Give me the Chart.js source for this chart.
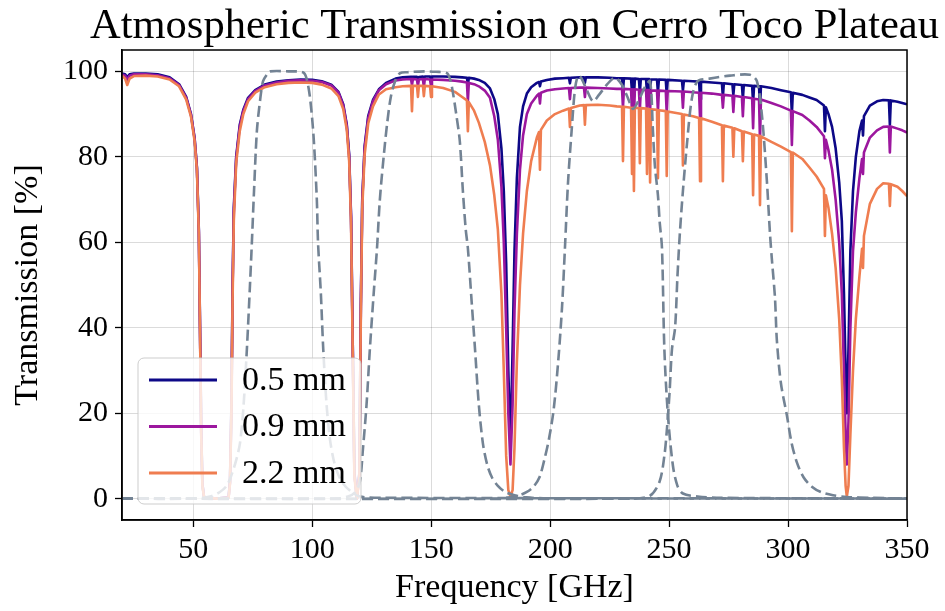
<!DOCTYPE html>
<html>
<head>
<meta charset="utf-8">
<script src="https://cdn.jsdelivr.net/npm/chart.js@4"></script>
<style>
html,body{margin:0;padding:0;background:#fff;}
canvas{display:block;}
</style>
</head>
<body>
<canvas id="c" width="945" height="611"></canvas>
<script>
// ---------- DATA ----------
const titleText = "Atmospheric Transmission on Cerro Toco Plateau";
const xLabel = "Frequency [GHz]";
const yLabel = "Transmission [%]";
const seriesLabels = ["0.5 mm", "0.9 mm", "2.2 mm"];
const xTicks = [50, 100, 150, 200, 250, 300, 350];
const yTicks = [0, 20, 40, 60, 80, 100];

const freqGHz = [20,21.3,22.2,23.2,25,30,35,40,44,47,49,50.5,51.5,52.3,52.8,53.3,53.8,54.5,60,64.8,65.4,66,66.5,67,68,69.5,71,73,76,80,85,90,95,100,104,108,111,113,114.5,115.5,116.3,117,117.7,118.75,119.8,120.4,121,122,123.5,125.5,128,131,135,138,141.5,141.9,142.3,144,144.4,144.8,146.5,146.9,147.3,149.5,149.9,150.3,155,160,163,165,165.4,165.8,168,170,172.5,174.7,176.5,178,179.5,180.5,181.5,182.4,183.3,184.2,185,186,187.3,188.6,190.2,192,194.4,195.3,195.7,196.1,198.6,202,205.4,207.9,208.3,208.7,212.5,214.2,214.6,215,220,225,228,230.2,230.6,231,234,234.4,234.8,235.2,235.6,237.3,237.7,238.1,240.3,240.7,241.1,241.6,242,242.4,244.9,245.3,245.7,248.6,249,249.4,255.4,255.8,256.2,260,262.6,263,263.4,268,272.2,272.6,273,276.6,277,277.4,280.6,281,281.4,284.9,285.3,285.7,287.8,288.2,288.6,293,297,301.2,301.6,302,306,309,312,315.1,315.5,315.9,317,318.5,320,321.5,322.6,323.5,324.2,324.7,325.4,326.2,327.3,328.5,330,331.1,331.5,331.9,334.4,337.4,340,342.4,342.8,343.2,346,348,350];

const trans05mm = [99.5,99.3,98.6,99.3,99.5,99.5,99.3,98.6,97.0,94.0,90.0,84.5,77.5,63,40,16,3.5,0.3,0,0.3,4,22,50,68,80,87.5,91,93.8,95.6,96.9,97.6,97.9,98.1,98.0,97.7,96.9,95.2,92.3,87.5,80.5,66,36,6,0,6,45,70,82.5,89.5,93.3,95.8,97.3,98.3,98.6,98.7,98.0,98.7,98.7,98.2,98.7,98.8,98.0,98.8,98.8,98.2,98.8,98.8,98.7,98.6,98.5,96.8,98.5,98.3,98.0,97.3,96.0,93.5,90,82,72,55,30,12,35,58,75,87,91.8,94.8,96.3,97.3,97.5,96.5,97.6,98.0,98.3,98.4,98.5,97.2,98.5,98.6,98.6,97.3,98.6,98.6,98.5,98.4,98.4,95.5,98.4,98.3,95,98.3,94,98.3,98.2,95,98.2,98.2,95,98.2,98.2,95.5,98.1,98.1,95,98.1,98.0,94.5,98.0,97.8,95.5,97.8,97.7,97.6,93.5,97.6,97.4,97.2,94,97.2,97.0,94.5,97.0,96.8,93.5,96.8,96.6,92.5,96.6,96.5,91.5,96.5,96.1,95.6,95.1,90,95.0,94.5,93.9,93.3,92.0,86,91.6,90,87,82,74,65,48,30,20,35,58,72,80,86,88.5,85,89.5,92.0,93.0,93.3,93.2,87.5,93.2,92.9,92.6,92.3];

const trans09mm = [99.3,99.0,98.0,99.0,99.3,99.3,99.1,98.4,96.8,93.8,89.8,84.3,77.3,62.5,39.5,15.5,3.3,0.3,0,0.3,3.8,21,49,67,79.5,87,90.7,93.5,95.4,96.7,97.4,97.8,97.9,97.8,97.5,96.7,95.0,92.0,87.2,80,65.5,35.5,5.8,0,5.8,44.5,69.5,82,89,93,95.6,97.0,97.9,98.1,98.2,96.8,98.2,98.1,96.5,98.1,98.2,96.3,98.2,98.1,96.5,98.1,98.0,97.8,97.6,97.4,93.0,97.3,97.0,96.5,95.5,93.8,89.5,84,73,60,40,20,8,22,44,62,77,85,90,92.5,94.3,94.8,92.5,95.0,95.5,95.8,96.0,96.1,93.5,96.1,96.2,96.2,94.0,96.2,96.1,96.0,95.9,95.9,91.5,95.9,95.8,90,95.8,89,95.8,95.7,91,95.7,95.6,90.5,95.6,95.6,91,95.5,95.5,90.5,95.5,95.4,90,95.4,95.3,91.5,95.3,95.1,95.0,89,95.0,94.8,94.5,91.5,94.5,94.3,90.5,94.3,94.0,89.5,94.0,93.7,86.7,93.6,93.4,83.7,93.4,92.6,91.8,90.8,82.8,90.7,89.8,88.5,87,84.8,79.7,84.0,81.5,77,70,60,48,30,15,8,18,40,58,67,75,79.5,76,81,84.5,86.2,87.0,87.1,81,87.1,86.6,86.2,85.7];

const trans22mm = [99.0,98.3,96.8,98.3,98.9,99.0,98.8,98.1,96.5,93.4,89.4,83.8,76.8,62,39,15,3,0.2,0,0.2,3.5,20,47,65,78.5,86,90,93,95,96.3,97.0,97.3,97.4,97.3,96.9,96.0,94.2,91.2,86.3,79,64,34,5,0,5,43,68,80.5,87.8,91.8,94.6,95.8,96.3,96.5,96.6,90.7,96.6,96.6,94.0,96.6,96.6,94.2,96.6,96.5,94.0,96.5,96.1,95.2,94.0,93.2,86.0,92.8,90.8,88.0,83.5,78,71,63,48,30,10,2,0.5,2,12,32,50,62,72,79,84.5,85.8,77,86.3,88.5,90.0,90.8,91.3,87,91.4,92.0,92.1,87.5,92.1,92.2,92.0,91.8,91.7,79,91.7,91.5,76,91.5,72,91.5,91.4,78.5,91.4,91.3,76,91.2,91.2,74,91.1,91.0,75,90.9,90.7,75.5,90.6,90.0,78,89.9,89.5,89.1,74.3,89.0,88.2,87.4,74.3,87.3,86.8,80,86.7,86.0,79,85.9,85.3,71,85.2,84.9,68.7,84.8,83.5,82.4,81.1,62.6,81.0,79.5,77.5,75.4,72.5,61.5,71.0,68,62,54,42,28,12,3,0.5,3,15,30,42,52,58.5,54,61.5,69,72.5,73.8,73.7,68.5,73.6,73.0,72.0,70.8];

// detector band-pass curves (dashed)
const band90Freq = [20,50,57,61,64,66,68,69.6,71,72.5,73.8,74.6,75.5,76.7,78,79.3,81,82.2,90,96,97.5,99,100.5,101.9,102.4,103.6,104.6,106,107.4,109,111,113,116,120,130,350];
const band90Vals = [0,0,0.5,1.5,3,5.5,9,13,21,35,50,60,72,86,93,97.7,99.3,100,100,99.8,98.5,94,85,70,60,48,35,22,14,9,5.5,3.5,1.8,0.5,0.2,0];
const band150Freq = [20,110,115,118,120,121.3,122.8,124.2,125.8,127.2,128.4,130,131.4,133,134.8,136.9,140,147,152,156.6,158,159,160.5,162,163.3,164.5,165.4,167,168.4,170,171.7,173.5,175.5,178,181,185,190,197,350];
const band150Vals = [0,0,0.5,1.5,4,11.7,22,35,48,58.6,70,80,87.5,94,97.7,99.6,99.8,100,99.9,99.6,98,95.4,90,83.7,72,63,58.6,46,35,22,13,8,5,3,1.6,0.8,0.3,0.1,0];
const band220Freq = [20,178,183,187,190,193,195.5,197.5,199.5,201.5,203.5,205,206.2,207.5,209,210.4,211.7,213,215.5,218,220.5,224,227.2,230,232.5,234.8,237,240,242,243.2,244,245.3,246,247,248,249.5,251.6,253.5,255.8,262,270,350];
const band220Vals = [0,0,0.3,0.8,1.5,2.8,5,9,14,21,33,45,58.6,74,86,95.7,99,98.5,95.5,93,94.5,97,98.5,97,94,91.2,93,96.5,97.7,86,78,71,65,58.6,35,19.5,7.7,3,1.2,0.5,0.2,0];
const band280Freq = [20,235,242,246,248,249,250.2,251.2,252.5,253.5,254.5,255.8,257.5,259.6,262,267,275.6,284,286.9,289,291.1,292.4,293.2,294.5,295.3,297,299.5,301.5,303.7,306.5,310,314,318.9,324.7,335,350];
const band280Vals = [0,0,0.7,4,10,15.7,25,35,40,52,62,72,83,93.8,97.7,98.3,99,99.2,97.7,89.8,74.3,62,56,47,37,27,19.5,13,8.5,5,2.8,1.5,0.8,0.4,0.2,0];

// ---------- STYLE ----------
const seriesColors = ["#0d0887", "#9c179e", "#ef7d50"];
const bandColor = "#738394";
const FONT = "'Liberation Serif', 'DejaVu Serif', serif";

function toPoints(xs, ys){ return xs.map((x,i)=>({x:x, y:ys[i]})); }

const transSeries = [trans05mm, trans09mm, trans22mm];
const datasets = [];
transSeries.forEach((vals, i) => {
  datasets.push({
    label: seriesLabels[i],
    data: toPoints(freqGHz, vals),
    borderColor: seriesColors[i],
    backgroundColor: seriesColors[i],
    borderWidth: 2.6,
    pointRadius: 0,
    tension: 0,
    borderJoinStyle: 'round',
    fill: false,
    order: 3 - i
  });
});
[[band90Freq, band90Vals],[band150Freq, band150Vals],[band220Freq, band220Vals],[band280Freq, band280Vals]].forEach((b) => {
  datasets.push({
    label: '',
    isBand: true,
    data: toPoints(b[0], b[1]),
    borderColor: bandColor,
    borderWidth: 2.6,
    borderDash: [11, 5],
    pointRadius: 0,
    tension: 0.3,
    fill: false,
    order: 0
  });
});

const framePlugin = {
  id: 'frame',
  afterDatasetsDraw(chart){
    const {ctx, chartArea: a} = chart;
    ctx.save();
    ctx.strokeStyle = '#000';
    ctx.lineWidth = 1.5;
    ctx.strokeRect(a.left, a.top, a.right - a.left, a.bottom - a.top);
    ctx.restore();

    // legend box (lower-left inside axes)
    const items = chart.data.datasets.filter(d => !d.isBand);
    const boxL = a.left + 16, boxW = 223, boxH = 146;
    const boxT = a.bottom - 16 - boxH;
    ctx.save();
    const r = 6;
    ctx.beginPath();
    ctx.moveTo(boxL + r, boxT);
    ctx.lineTo(boxL + boxW - r, boxT);
    ctx.arcTo(boxL + boxW, boxT, boxL + boxW, boxT + r, r);
    ctx.lineTo(boxL + boxW, boxT + boxH - r);
    ctx.arcTo(boxL + boxW, boxT + boxH, boxL + boxW - r, boxT + boxH, r);
    ctx.lineTo(boxL + r, boxT + boxH);
    ctx.arcTo(boxL, boxT + boxH, boxL, boxT + boxH - r, r);
    ctx.lineTo(boxL, boxT + r);
    ctx.arcTo(boxL, boxT, boxL + r, boxT, r);
    ctx.closePath();
    ctx.fillStyle = 'rgba(255,255,255,0.8)';
    ctx.fill();
    ctx.strokeStyle = 'rgba(200,200,200,0.9)';
    ctx.lineWidth = 1;
    ctx.stroke();
    ctx.font = "34px " + FONT;
    ctx.textBaseline = 'middle';
    ctx.fillStyle = '#000';
    items.forEach((d, i) => {
      const y = boxT + 22 + i * 46.5;
      ctx.strokeStyle = d.borderColor;
      ctx.lineWidth = 3;
      ctx.beginPath();
      ctx.moveTo(boxL + 11, y);
      ctx.lineTo(boxL + 79, y);
      ctx.stroke();
      ctx.fillText(d.label, boxL + 104, y + 1);
    });
    ctx.restore();

    // title centred over the axes
    ctx.save();
    ctx.font = "42.5px " + FONT;
    ctx.fillStyle = '#000';
    ctx.textAlign = 'center';
    ctx.textBaseline = 'alphabetic';
    ctx.fillText(titleText, (a.left + a.right) / 2, 38);
    ctx.restore();
  }
};

new Chart(document.getElementById('c'), {
  type: 'line',
  data: { datasets: datasets },
  plugins: [framePlugin],
  options: {
    responsive: false,
    animation: false,
    devicePixelRatio: 1,
    layout: { padding: { right: 38, left: 0, top: 50, bottom: 0 } },
    plugins: {
      legend: { display: false },
      tooltip: { enabled: false },
      title: { display: false }
    },
    scales: {
      x: {
        type: 'linear',
        min: 20, max: 350,
        afterBuildTicks(scale){ scale.ticks = xTicks.map(v => ({value: v})); },
        afterFit(scale){ scale.height = 91; },
        grid: { color: 'rgba(0,0,0,0.14)', lineWidth: 1, tickColor: '#000', tickLength: 7, tickWidth: 1.3 },
        border: { display: true, color: '#000', width: 1.5 },
        ticks: { color: '#000', font: { family: FONT, size: 30 }, padding: 5, autoSkip: false, maxRotation: 0,
                 callback: (v) => String(v) },
        title: { display: true, text: xLabel, color: '#000', font: { family: FONT, size: 34 }, padding: { top: 0, bottom: 3 } }
      },
      y: {
        type: 'linear',
        min: -5, max: 105,
        afterBuildTicks(scale){ scale.ticks = yTicks.map(v => ({value: v})); },
        afterFit(scale){ scale.width = 122; },
        grid: { color: 'rgba(0,0,0,0.14)', lineWidth: 1, tickColor: '#000', tickLength: 7, tickWidth: 1.3 },
        border: { display: true, color: '#000', width: 1.5 },
        ticks: { color: '#000', font: { family: FONT, size: 30 }, padding: 7, callback: (v) => String(v) },
        title: { display: true, text: yLabel, color: '#000', font: { family: FONT, size: 34 }, padding: { top: 8, bottom: 0 } }
      }
    }
  }
});
</script>
</body>
</html>
